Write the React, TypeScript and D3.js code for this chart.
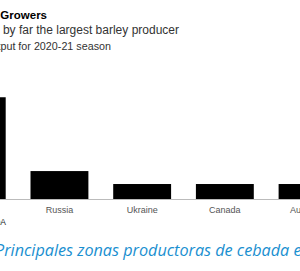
import React from 'react';
import * as d3 from 'd3';

// barley output, million metric tons
const countries = ['EU', 'Russia', 'Ukraine', 'Canada', 'Australia'];
const output = [55.0, 15.1, 8.1, 8.1, 8.1];
const yMax = 60;

const title = 'Barley Growers';
const subtitle = 'EU is by far the largest barley producer';
const note = 'Output for 2020-21 season';
const source = 'Source: USDA';
const caption = 'Principales zonas productoras de cebada en el mundo';

export default function App() {
    const width = 300;
    const height = 271;
    const baseline = 199;
    const plotH = 111;

    const x = d3.scaleBand()
        .domain(countries)
        .range([-64.6, 348.9])
        .paddingInner(0.3)
        .paddingOuter(0.15);

    const y = d3.scaleLinear()
        .domain([0, yMax])
        .range([baseline, baseline - plotH]);

    const font = '"Liberation Sans", Arial, sans-serif';

    return (
        <svg width={width} height={height}
             style={{position: 'absolute', left: 0, top: 0, background: '#fff'}}>
            <text x={47} y={19} textAnchor="end" fontFamily={font}
                  fontWeight="bold" fontSize={11.5} fill="#000">{title}</text>
            <text x={179} y={34} textAnchor="end" fontFamily={font}
                  fontSize={12} fill="#333">{subtitle}</text>
            <text x={111} y={49.5} textAnchor="end" fontFamily={font}
                  fontSize={10.75} fill="#333">{note}</text>

            <line x1={0} x2={width} y1={baseline + 0.5} y2={baseline + 0.5}
                  stroke="#bbb" strokeWidth={1}/>
            {countries.map((c, i) => (
                <rect key={c} x={x(c)} y={y(output[i])}
                      width={x.bandwidth()} height={baseline - y(output[i])}
                      fill="#000"/>
            ))}
            {countries.map(c => (
                <text key={c} x={(x(c) as number) + x.bandwidth() / 2} y={212.5}
                      textAnchor="middle" fontFamily={font} fontSize={9}
                      fill="#555">{c}</text>
            ))}
            <text x={6} y={225} textAnchor="end" fontFamily={font}
                  fontSize={8.5} fill="#222">{source}</text>

            <text x={-5} y={256} fontFamily='"Open Sans", sans-serif'
                  fontStyle="italic" fontSize={16.2} fill="#1a8fd0">{caption}</text>
        </svg>
    );
}
